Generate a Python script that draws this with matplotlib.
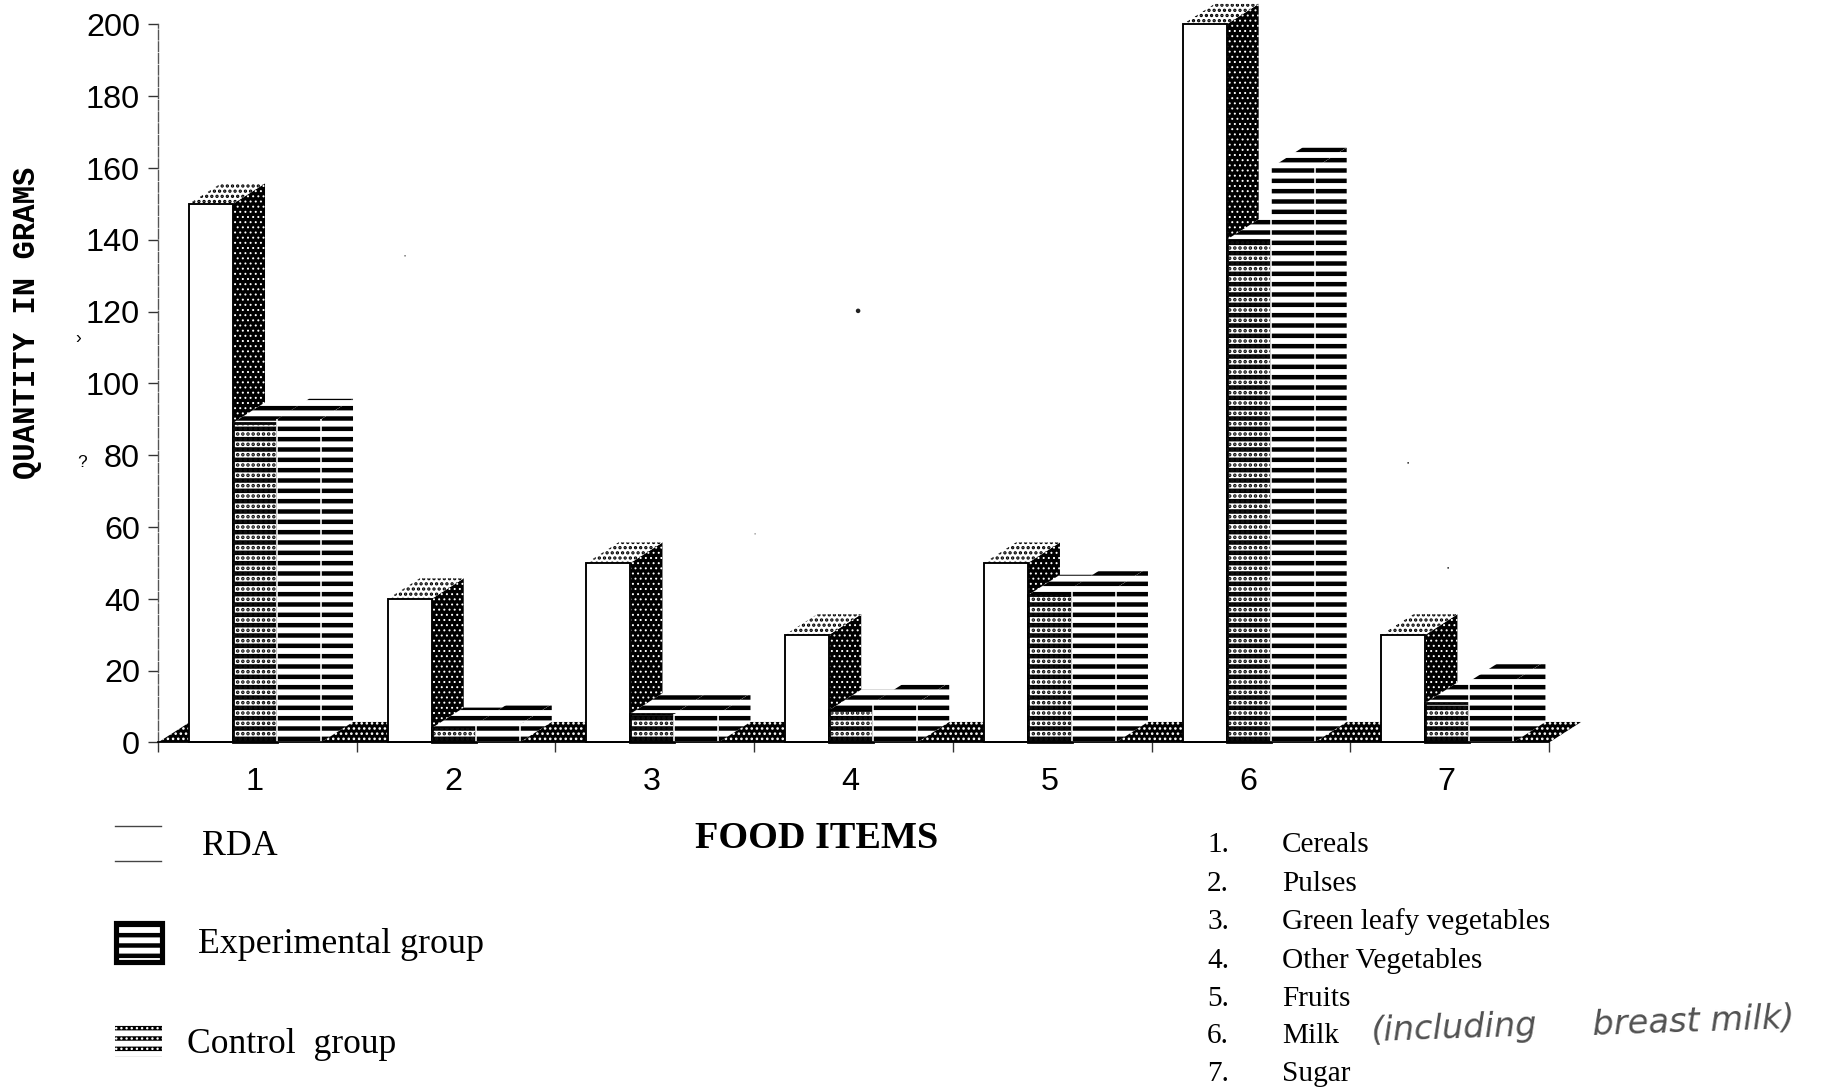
import matplotlib
matplotlib.use("Agg")
import matplotlib.pyplot as plt
from matplotlib.collections import PolyCollection
from matplotlib.patches import Polygon, Rectangle
from matplotlib.transforms import ScaledTranslation
import numpy as np

# quantities in grams per food item
food_ids = ["1", "2", "3", "4", "5", "6", "7"]
food_names = ["Cereals", "Pulses", "Green leafy vegetables", "Other Vegetables",
              "Fruits", "Milk", "Sugar"]
rda = [150, 40, 50, 30, 50, 200, 30]
experimental = [89, 4, 8, 9, 41, 140, 11]
control = [90, 5, 8, 11, 43, 160, 17]
y_ticks = [0, 20, 40, 60, 80, 100, 120, 140, 160, 180, 200]

W, H = 1829, 1089
DPI = 124
SANS = "Liberation Sans"
SERIF = "Liberation Serif"
MONO = "Liberation Mono"

plt.rcParams["hatch.linewidth"] = 2.6

fig = plt.figure(figsize=((W + 0.2) / DPI, (H + 0.2) / DPI), dpi=DPI, facecolor="white")
ax = fig.add_axes([158 / W, 1 - 742.5 / H, (1549 - 158) / W, (742.5 - 24.5) / H])
ax.set_xlim(-0.5, 6.5)
ax.set_ylim(0, 200)
ax.patch.set_alpha(0)

bar_w = 0.2214
left_gap = -0.344
dx = 0.161   # depth of the fake 3d, x in category units
dy = 5.7     # depth of the fake 3d, y in grams
x = np.arange(len(food_ids))


def dotted(a, pts, fc, dot, z, dot_lw, hatch="...."):
    # collections keep their own hatch width, patches only see the global one
    with plt.rc_context({"hatch.linewidth": dot_lw}):
        c = PolyCollection([pts], facecolors=fc, edgecolors=dot, hatch=hatch,
                           linewidths=0, zorder=z, clip_on=False)
    a.add_collection(c)


def striped(pts, z):
    ax.add_patch(Polygon(pts, closed=True, facecolor="white", edgecolor="black", hatch="--",
                         linewidth=0, zorder=z, clip_on=False))


def bar3d(x0, v, kind, z):
    x1 = x0 + bar_w
    side = [(x1, 0), (x1 + dx, dy), (x1 + dx, v + dy), (x1, v)]
    top = [(x0, v), (x0 + dx, v + dy), (x1 + dx, v + dy), (x1, v)]
    if kind == "rda":
        dotted(ax, side, "black", "white", z, 0.6)
        dotted(ax, top, "white", "black", z, 1.3)
        ax.bar(x0, v, bar_w, align="edge", color="white", edgecolor="black",
               linewidth=1.1, zorder=z, clip_on=False)
    elif kind == "exp":
        striped(side, z)
        striped(top, z)
        ax.bar(x0, v, bar_w, align="edge", color="white", edgecolor="black",
               hatch="--", linewidth=1.6, zorder=z, clip_on=False)
        # the darker group gets a dotted layer on top of its stripes
        front = [(x0, 0), (x0, v), (x1, v), (x1, 0)]
        dotted(ax, front, "none", "#111111", z, 1.4)
    else:
        striped(side, z)
        striped(top, z)
        ax.bar(x0, v, bar_w, align="edge", color="white", edgecolor="black",
               hatch="--", linewidth=0, zorder=z, clip_on=False)
        ax.vlines([x0, x1], 0, v, color="white", lw=0.9, zorder=z, clip_on=False)


# floor of the chart
dotted(ax, [(-0.5, 0), (-0.5 + dx, dy), (6.5 + dx, dy), (6.5, 0)], "black", "white", 1, 0.9)

for i in x:
    x0 = i + left_gap
    bar3d(x0, rda[i], "rda", 3 + i * 3)
    bar3d(x0 + bar_w, experimental[i], "exp", 4 + i * 3)
    bar3d(x0 + 2 * bar_w, control[i], "ctl", 5 + i * 3)

# axes
for s in ["top", "right"]:
    ax.spines[s].set_visible(False)
ax.spines["left"].set_color("#555555")
ax.spines["left"].set_linewidth(0.8)
ax.spines["left"].set_linestyle((0, (7, 1.5)))
ax.spines["bottom"].set_color("black")
ax.spines["bottom"].set_linewidth(1.0)
ax.spines["bottom"].set_zorder(50)

ax.set_yticks(y_ticks)
ax.set_yticklabels([str(v) for v in y_ticks], fontfamily=SANS, fontsize=18.8)
ax.tick_params(axis="y", length=6, width=0.8, color="#333333", pad=4.5)
ax.set_xticks(np.arange(-0.5, 7, 1))
ax.set_xticklabels([])
ax.tick_params(axis="x", which="major", length=6, width=0.8, color="#333333")
ax.set_xticks(x, minor=True)
ax.set_xticklabels(food_ids, minor=True, fontfamily=SANS, fontsize=18.8)
ax.tick_params(axis="x", which="minor", length=0, pad=14)
shift = ScaledTranslation(-3 / DPI, 0, fig.dpi_scale_trans)
for lab in ax.get_xticklabels(minor=True):
    lab.set_transform(lab.get_transform() + shift)

# overlay in pixel units for the notes under the chart
note = fig.add_axes([0, 0, 1, 1])
note.set_xlim(0, W)
note.set_ylim(H, 0)
note.axis("off")
note.patch.set_alpha(0)

note.text(27, 323, "QUANTITY IN GRAMS", rotation=90, ha="center", va="center",
          family=MONO, fontweight="bold", fontsize=17.8)
note.text(817, 838, "FOOD ITEMS", ha="center", va="center", family=SERIF,
          fontweight="bold", fontsize=22.2)

# legend
note.plot([115, 161], [826, 826], color="#444444", lw=0.8)
note.plot([115, 161], [861, 861], color="#444444", lw=0.8)
note.text(202, 855, "RDA", family=SERIF, fontsize=20.8)
note.add_patch(Rectangle((116, 923), 46, 39, facecolor="white", edgecolor="black",
                         hatch="--", linewidth=3))
note.text(198, 953, "Experimental group", family=SERIF, fontsize=20.8)
swatch = [(115, 1022), (162, 1022), (162, 1057), (115, 1057)]
note.add_patch(Polygon(swatch, closed=True, facecolor="white", edgecolor="black",
                       hatch="--", linewidth=0))
dotted(note, swatch, "none", "white", 5, 0.8)
note.text(187, 1053, "Control  group", family=SERIF, fontsize=20.6)

# numbered key
key_y = [852, 891, 929, 968, 1006, 1043, 1081]
for fid, name, yy in zip(food_ids, food_names, key_y):
    note.text(1207, yy, fid + ".", family=SERIF, fontsize=17)
    note.text(1282, yy, name, family=SERIF, fontsize=17)

# pen note next to Milk
note.text(1370, 1041, "(including", family="DejaVu Sans", style="oblique", fontsize=19.5,
          rotation=2, color="#333333", fontweight="normal", alpha=0.85)
note.text(1592, 1035, "breast milk)", family="DejaVu Sans", style="oblique", fontsize=19.5,
          rotation=2, color="#333333", fontweight="normal", alpha=0.85)

# stray pen marks and specks
note.text(78, 338, "\u203a", family=SANS, fontsize=10, ha="center", va="center")
note.text(82, 462, "?", family=SANS, fontsize=10, ha="center", va="center")
speck_x = [858, 405, 1408, 1448, 755]
speck_y = [311, 256, 463, 568, 534]
speck_s = [7, 0.6, 1, 1, 0.4]
note.scatter(speck_x, speck_y, s=speck_s, color="#222222", linewidths=0)

fig.savefig("out.png", dpi=DPI, facecolor="white")
